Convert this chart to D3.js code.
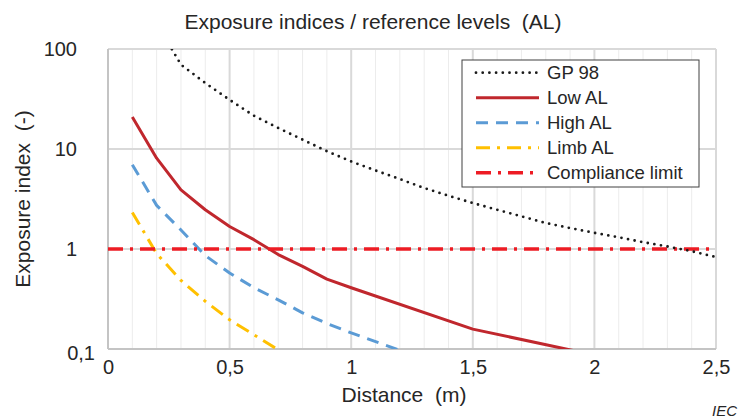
<!DOCTYPE html>
<html>
<head>
<meta charset="utf-8">
<script src="https://cdn.jsdelivr.net/npm/d3@7"></script>
<style>
  html, body { margin: 0; padding: 0; background: #fff; }
  svg { display: block; font-family: "Liberation Sans", Arial, sans-serif; }
  svg text { white-space: pre; }
</style>
</head>
<body>
<svg id="chart" width="739" height="419"></svg>
<script>
// ---- data ----
const titleText = "Exposure indices / reference levels  (AL)";
const xLabel = "Distance  (m)";
const yLabel = "Exposure index  (-)";
const xTicks = [0, 0.5, 1, 1.5, 2, 2.5];
const yTicks = [0.1, 1, 10, 100];

const gp98X = [0.1, 0.2, 0.3, 0.4, 0.5, 0.6, 0.7, 0.8, 0.9, 1.0, 1.1, 1.2, 1.3, 1.4, 1.5, 1.6, 1.7, 1.8, 1.9, 2.0, 2.1, 2.2, 2.3, 2.4, 2.5];
const gp98Y = [700, 180, 69.7, 45.7, 31, 21.5, 16.2, 12.4, 9.5, 7.5, 6.1, 5.0, 4.07, 3.41, 2.88, 2.47, 2.12, 1.82, 1.62, 1.45, 1.31, 1.17, 1.06, 0.95, 0.83];

const lowX = [0.1, 0.2, 0.3, 0.4, 0.5, 0.6, 0.7, 0.8, 0.9, 1.0, 1.5, 2.0];
const lowY = [20.9, 8.1, 3.9, 2.47, 1.68, 1.24, 0.88, 0.67, 0.50, 0.41, 0.158, 0.087];

const highX = [0.1, 0.2, 0.3, 0.4, 0.5, 0.6, 0.7, 0.8, 0.9, 1.0, 1.5, 2.0];
const highY = [6.97, 2.73, 1.55, 0.86, 0.575, 0.41, 0.31, 0.23, 0.18, 0.145, 0.053, 0.029];

const limbX = [0.1, 0.2, 0.3, 0.4, 0.5, 0.6, 0.7, 0.8, 0.9, 1.0, 1.5, 2.0];
const limbY = [2.32, 0.9, 0.485, 0.30, 0.196, 0.139, 0.098, 0.074, 0.056, 0.045, 0.0175, 0.0095];

const limitX = [0, 2.5];
const limitY = [1, 1];

const seriesNames = ["GP 98", "Low AL", "High AL", "Limb AL", "Compliance limit"];

// ---- styles ----
const styles = {
  "GP 98": { color: "#1a1a1a", width: 2.8, dash: "0,6.7", cap: "round" },
  "Low AL": { color: "#C0272D", width: 3, dash: null, cap: "butt" },
  "High AL": { color: "#5B9BD5", width: 3, dash: "12,8", cap: "butt" },
  "Limb AL": { color: "#FFC000", width: 3, dash: "14,7,3,7", cap: "butt" },
  "Compliance limit": { color: "#ED1C24", width: 3.5, dash: "15,7,3,7", cap: "butt" }
};

const seriesData = {
  "GP 98": gp98X.map((x, i) => [x, gp98Y[i]]),
  "Low AL": lowX.map((x, i) => [x, lowY[i]]),
  "High AL": highX.map((x, i) => [x, highY[i]]),
  "Limb AL": limbX.map((x, i) => [x, limbY[i]]),
  "Compliance limit": limitX.map((x, i) => [x, limitY[i]])
};

const svg = d3.select("#chart");
const W = 739, H = 419;
const m = { left: 108, right: 23, top: 49, bottom: 70 };
const x = d3.scaleLinear().domain([0, 2.5]).range([m.left, W - m.right]);
const y = d3.scaleLog().domain([0.1, 100]).range([H - m.bottom, m.top]);
const textColor = "#262626";
const fmt = v => String(v).replace(".", ",");

// grid: minor vertical
const minor = d3.range(0, 26).map(i => i / 10);
svg.append("g").selectAll("line").data(minor.filter(v => Math.abs(v * 2 - Math.round(v * 2)) > 1e-6))
  .join("line")
  .attr("x1", d => x(d)).attr("x2", d => x(d))
  .attr("y1", y(100)).attr("y2", y(0.1))
  .attr("stroke", "#ececec").attr("stroke-width", 1);
// major vertical
svg.append("g").selectAll("line").data(xTicks).join("line")
  .attr("x1", d => x(d)).attr("x2", d => x(d))
  .attr("y1", y(100)).attr("y2", y(0.1))
  .attr("stroke", "#d9d9d9").attr("stroke-width", 2);
// horizontal decades
svg.append("g").selectAll("line").data(yTicks).join("line")
  .attr("x1", x(0)).attr("x2", x(2.5))
  .attr("y1", d => y(d)).attr("y2", d => y(d))
  .attr("stroke", "#d9d9d9").attr("stroke-width", 2);
// axis lines
svg.append("line").attr("x1", x(0)).attr("x2", x(0)).attr("y1", y(100)).attr("y2", y(0.1))
  .attr("stroke", "#c4c4c4").attr("stroke-width", 2);
svg.append("line").attr("x1", x(0)).attr("x2", x(2.5)).attr("y1", y(0.1)).attr("y2", y(0.1))
  .attr("stroke", "#c4c4c4").attr("stroke-width", 2);

// axes
const gx = svg.append("g").attr("transform", `translate(0,${y(0.1)})`)
  .call(d3.axisBottom(x).tickValues(xTicks).tickSize(0).tickPadding(11).tickFormat(fmt));
gx.select(".domain").remove();
gx.selectAll("text").attr("font-size", 20).attr("fill", textColor).attr("font-family", "Liberation Sans, Arial, sans-serif");

const gy = svg.append("g").attr("transform", `translate(${x(0)},0)`)
  .call(d3.axisLeft(y).tickValues(yTicks).tickSize(0).tickPadding(31).tickFormat(fmt));
gy.select(".domain").remove();
gy.selectAll("text").attr("font-size", 20).attr("fill", textColor).attr("font-family", "Liberation Sans, Arial, sans-serif");
gy.selectAll(".tick").filter(d => d === 0.1).select("text").attr("dx", 18).attr("dy", "0.5em");

// clip
svg.append("clipPath").attr("id", "clip").append("rect")
  .attr("x", x(0)).attr("y", y(100)).attr("width", x(2.5) - x(0)).attr("height", y(0.1) - y(100));

const line = d3.line().x(d => x(d[0])).y(d => y(d[1]));
const plot = svg.append("g").attr("clip-path", "url(#clip)");
["Limb AL", "High AL", "Low AL", "Compliance limit", "GP 98"].forEach(name => {
  const s = styles[name];
  plot.append("path").datum(seriesData[name])
    .attr("d", line).attr("fill", "none")
    .attr("stroke", s.color).attr("stroke-width", s.width)
    .attr("stroke-dasharray", s.dash).attr("stroke-linecap", s.cap)
    .attr("stroke-linejoin", "round");
});

// legend
const lg = svg.append("g");
lg.append("rect").attr("x", 462).attr("y", 60).attr("width", 237).attr("height", 127)
  .attr("fill", "#fff").attr("stroke", "#404040").attr("stroke-width", 1);
seriesNames.forEach((name, i) => {
  const s = styles[name];
  const cy = 72.7 + i * 25;
  lg.append("line").attr("x1", 476).attr("x2", 539).attr("y1", cy).attr("y2", cy)
    .attr("stroke", s.color).attr("stroke-width", s.width)
    .attr("stroke-dasharray", s.dash).attr("stroke-linecap", s.cap);
  lg.append("text").attr("x", 547).attr("y", cy).attr("dy", "0.35em")
    .attr("font-size", 18.5).attr("fill", textColor).text(name);
});

// titles
svg.append("text").attr("x", 373).attr("y", 29).attr("text-anchor", "middle")
  .attr("font-size", 21).attr("fill", textColor).text(titleText);
svg.append("text").attr("x", 404).attr("y", 402).attr("text-anchor", "middle")
  .attr("font-size", 21).attr("fill", textColor).text(xLabel);
svg.append("text").attr("transform", "translate(30,199) rotate(-90)").attr("text-anchor", "middle")
  .attr("font-size", 21).attr("fill", textColor).text(yLabel);
svg.append("text").attr("x", 737).attr("y", 416).attr("text-anchor", "end")
  .attr("font-size", 15).attr("font-style", "italic").attr("fill", textColor).text("IEC");
</script>
</body>
</html>
